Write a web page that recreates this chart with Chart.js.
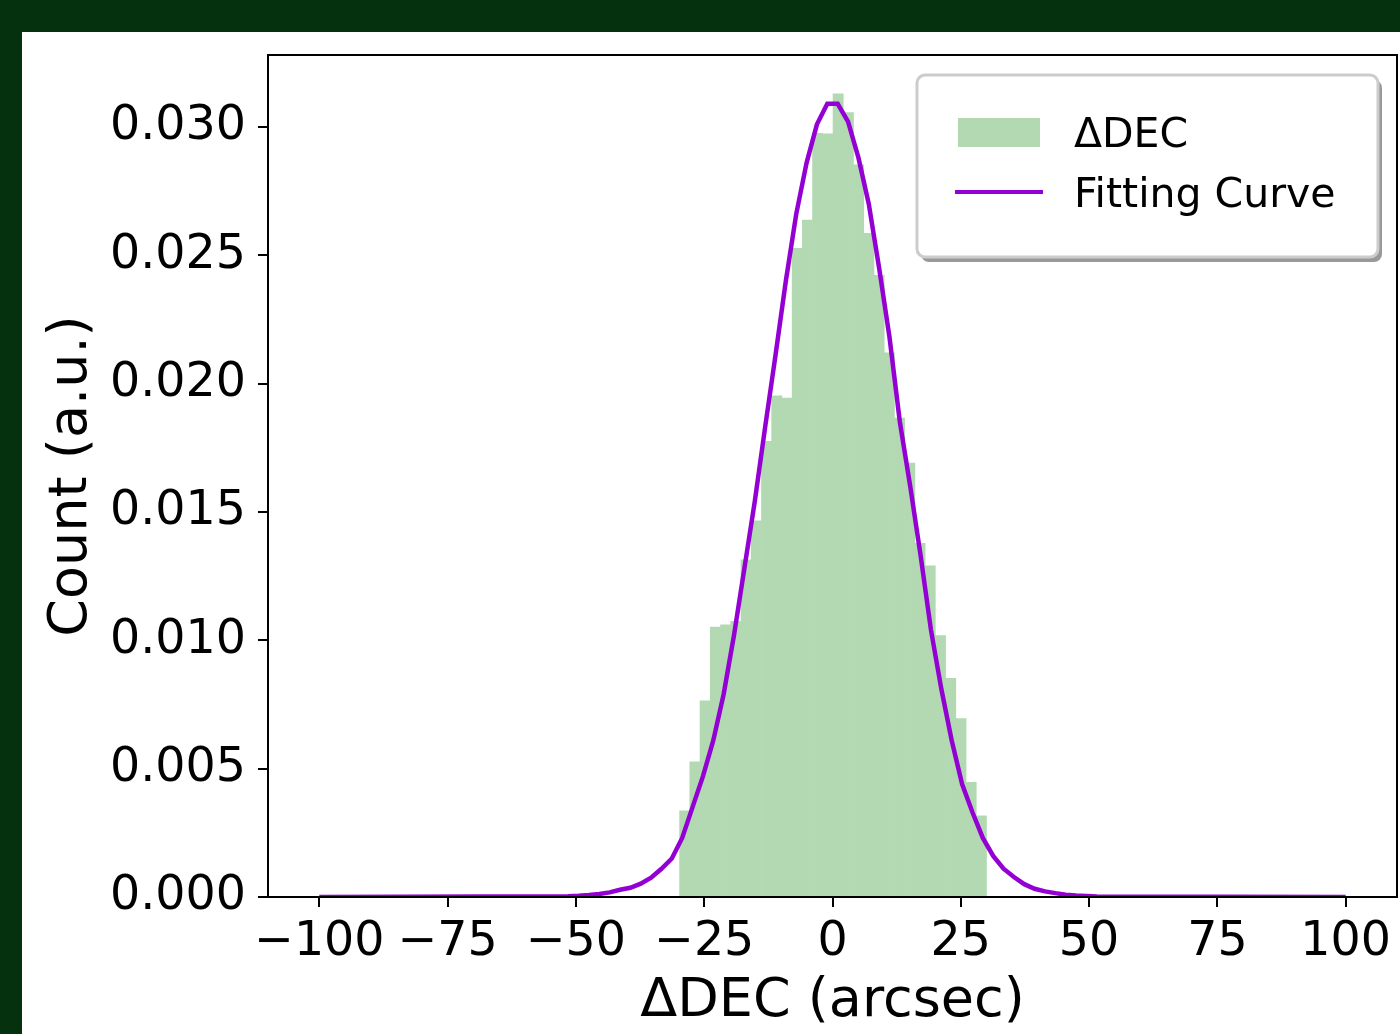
<!DOCTYPE html>
<html>
<head>
<meta charset="utf-8">
<script src="https://cdn.jsdelivr.net/npm/chart.js@4.4.0/dist/chart.umd.min.js"></script>
<style>
  html, body { margin: 0; padding: 0; background: #05310f; }
  body { width: 1400px; height: 1034px; overflow: hidden; position: relative; }
  #wrap { position: absolute; left: 22px; top: 32px; width: 1378px; height: 1002px; background: #fff; }
</style>
</head>
<body>
<div id="wrap"><canvas id="grafico" width="1378" height="1002"></canvas></div>
<script>
// histogram bins (centers) and normalized counts
const binCenters = [-28.80, -26.81, -24.82, -22.82, -20.83, -18.83, -16.84, -14.85, -12.85, -10.86,
  -8.87, -6.87, -4.88, -2.89, -0.89, 1.10, 3.10, 5.09, 7.08, 9.08,
  11.07, 13.06, 15.06, 17.05, 19.04, 21.04, 23.03, 25.03, 27.02, 29.01];
const histDensity = [0.00336, 0.00527, 0.00764, 0.01051, 0.0106, 0.01074, 0.01313, 0.01465, 0.01775, 0.01952,
  0.01944, 0.02527, 0.02637, 0.02975, 0.02973, 0.03129, 0.03056, 0.02852, 0.02585, 0.02422,
  0.0212, 0.01866, 0.0169, 0.01378, 0.0129, 0.01018, 0.00852, 0.00695, 0.00447, 0.00316];

// fitting curve
const fitX = [-100, -51.52, -49.49, -47.47, -45.45, -43.43, -41.41, -39.39, -37.37, -35.35,
  -33.33, -31.31, -29.29, -27.27, -25.25, -23.23, -21.21, -19.19, -17.17, -15.15,
  -13.13, -11.11, -9.09, -7.07, -5.05, -3.03, -1.01, 1.01, 3.03, 5.05,
  7.07, 9.09, 11.11, 13.13, 15.15, 17.17, 19.19, 21.21, 23.23, 25.25,
  27.27, 29.29, 31.31, 33.33, 35.35, 37.37, 39.39, 41.41, 43.43, 45.45,
  47.47, 49.49, 51.52, 100];
const fitY = [0, 0.00003, 0.00005, 0.00008, 0.00012, 0.00018, 0.00028, 0.00036, 0.00052, 0.00075,
  0.0011, 0.0015, 0.0023, 0.0035, 0.0047, 0.0061, 0.0079, 0.0102, 0.0128, 0.0154,
  0.0183, 0.0211, 0.0240, 0.0266, 0.0286, 0.0301, 0.0309, 0.0309, 0.0302, 0.0288,
  0.0270, 0.0245, 0.0218, 0.0185, 0.0160, 0.0133, 0.0104, 0.0081, 0.0061, 0.0044,
  0.0033, 0.0023, 0.0016, 0.0011, 0.00078, 0.0005, 0.00032, 0.00022, 0.00015, 0.00009,
  0.00006, 0.00004, 0.00002, 0];

const xTicks = [-100, -75, -50, -25, 0, 25, 50, 75, 100];
const yTicks = [0, 0.005, 0.010, 0.015, 0.020, 0.025, 0.030];

const fonte = 'DejaVu Sans';

// black frame around the plot area
const moldura = {
  id: 'moldura',
  afterDatasetsDraw(chart) {
    const { ctx, chartArea: a } = chart;
    ctx.save();
    ctx.strokeStyle = '#000';
    ctx.lineWidth = 2;
    ctx.strokeRect(a.left, a.top, a.right - a.left, a.bottom - a.top);
    ctx.restore();
  }
};

// matplotlib-like legend inside the axes, upper right
const legendaInterna = {
  id: 'legendaInterna',
  afterDraw(chart) {
    const { ctx, chartArea: a } = chart;
    const w = 461, h = 182;
    const x = a.right - 19 - w, y = a.top + 20;
    const r = 8;
    function caixa(px, py) {
      ctx.beginPath();
      ctx.moveTo(px + r, py);
      ctx.arcTo(px + w, py, px + w, py + h, r);
      ctx.arcTo(px + w, py + h, px, py + h, r);
      ctx.arcTo(px, py + h, px, py, r);
      ctx.arcTo(px, py, px + w, py, r);
      ctx.closePath();
    }
    ctx.save();
    caixa(x + 4, y + 5);
    ctx.fillStyle = '#999';
    ctx.fill();
    caixa(x, y);
    ctx.fillStyle = '#fff';
    ctx.fill();
    ctx.lineWidth = 3;
    ctx.strokeStyle = '#cccccc';
    ctx.stroke();

    const ds = chart.data.datasets;
    ctx.font = '41px ' + fonte;
    ctx.textBaseline = 'alphabetic';
    // histogram entry
    ctx.fillStyle = ds[0].backgroundColor;
    ctx.fillRect(x + 41, y + 43, 82, 29);
    ctx.fillStyle = '#000';
    ctx.fillText(ds[0].label, x + 157, y + 72);
    // curve entry
    ctx.strokeStyle = ds[1].borderColor;
    ctx.lineWidth = 4;
    ctx.beginPath();
    ctx.moveTo(x + 38, y + 117);
    ctx.lineTo(x + 126, y + 117);
    ctx.stroke();
    ctx.fillText(ds[1].label, x + 157, y + 132);
    ctx.restore();
  }
};

new Chart(document.getElementById('grafico'), {
  type: 'bar',
  data: {
    datasets: [
      {
        type: 'bar',
        label: 'ΔDEC',
        data: binCenters.map((c, i) => ({ x: c, y: histDensity[i] })),
        backgroundColor: 'rgb(179, 217, 179)',
        borderWidth: 0,
        barPercentage: 1.0,
        categoryPercentage: 1.0,
        order: 2
      },
      {
        type: 'line',
        label: 'Fitting Curve',
        data: fitX.map((v, i) => ({ x: v, y: fitY[i] })),
        borderColor: '#9400d3',
        borderWidth: 4.5,
        pointRadius: 0,
        tension: 0,
        fill: false,
        order: 1
      }
    ]
  },
  options: {
    responsive: false,
    devicePixelRatio: 1,
    animation: false,
    layout: { padding: { top: 23, right: 3, left: 0, bottom: 0 } },
    plugins: {
      legend: { display: false },
      tooltip: { enabled: false }
    },
    scales: {
      x: {
        type: 'linear',
        min: -110,
        max: 110,
        offset: false,
        afterBuildTicks: s => { s.ticks = xTicks.map(v => ({ value: v })); },
        afterFit: s => { s.height = 137; s.paddingLeft = 0; s.paddingRight = 0; },
        grid: { offset: false, drawOnChartArea: false, drawTicks: true, tickLength: 10, color: '#000', lineWidth: 2 },
        border: { display: true, color: '#000', width: 2 },
        ticks: {
          color: '#000',
          font: { family: fonte, size: 47.5 },
          padding: 7,
          maxRotation: 0,
          autoSkip: false,
          callback: v => (v < 0 ? '\u2212' + Math.abs(v) : String(v))
        },
        title: {
          display: true,
          text: 'ΔDEC (arcsec)',
          color: '#000',
          font: { family: fonte, size: 54 },
          padding: { top: 0, bottom: 0 }
        }
      },
      y: {
        min: 0,
        max: 0.0328,
        afterBuildTicks: s => { s.ticks = yTicks.map(v => ({ value: v })); },
        afterFit: s => { s.width = 246; s.paddingTop = 0; s.paddingBottom = 0; },
        grid: { drawOnChartArea: false, drawTicks: true, tickLength: 10, color: '#000', lineWidth: 2 },
        border: { display: true, color: '#000', width: 2 },
        ticks: {
          color: '#000',
          font: { family: fonte, size: 47.5 },
          padding: 12,
          callback: v => v.toFixed(3)
        },
        title: {
          display: true,
          text: 'Count (a.u.)',
          color: '#000',
          font: { family: fonte, size: 54 },
          padding: { top: 18, bottom: 0 }
        }
      }
    }
  },
  plugins: [moldura, legendaInterna]
});
</script>
</body>
</html>
